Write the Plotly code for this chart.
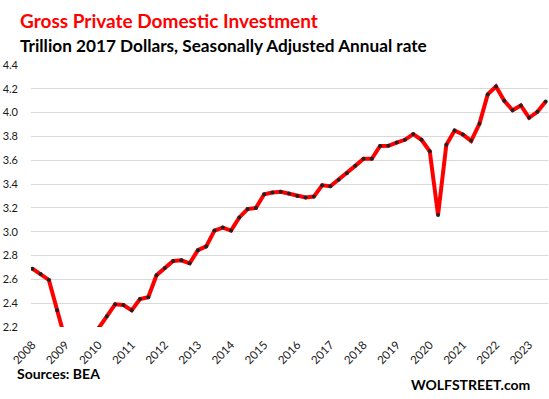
import plotly.graph_objects as go

years = list(range(2008, 2024))
quarters = [f"{y}Q{q}" for y in years for q in range(1, 5)][:63]
values = [
    2.69, 2.645, 2.595, 2.34,
    2.09, 2.02, 2.04, 2.12,
    2.19, 2.29, 2.39, 2.385,
    2.34, 2.435, 2.45, 2.635,
    2.695, 2.755, 2.76, 2.735,
    2.845, 2.877, 3.01, 3.035,
    3.01, 3.12, 3.19, 3.20,
    3.315, 3.33, 3.335, 3.32,
    3.30, 3.288, 3.295, 3.39,
    3.382, 3.437, 3.49, 3.553,
    3.612, 3.612, 3.72, 3.722,
    3.749, 3.772, 3.82, 3.772,
    3.675, 3.14, 3.73, 3.85,
    3.816, 3.763, 3.906, 4.153,
    4.22, 4.10, 4.02, 4.06,
    3.957, 4.007, 4.094,
]
tick_labels = [str(y) for y in years]
tick_positions = [f"{y}Q1" for y in years]
y_ticks = [2.2, 2.4, 2.6, 2.8, 3.0, 3.2, 3.4, 3.6, 3.8, 4.0, 4.2, 4.4]

W, H = 549, 399
L, R, T, B = 31, 548, 65.3, 326.7

def px(x):
    return (x - L) / (R - L)

def py(y):
    return (B - y) / (B - T)

fig = go.Figure()
fig.add_trace(go.Scatter(
    x=quarters, y=values, mode="lines+markers",
    line=dict(color="#ff0000", width=4),
    marker=dict(color="#222222", size=4),
    hoverinfo="skip",
))

font_family = "Lato, 'Liberation Sans', sans-serif"
fig.update_layout(
    width=W, height=H,
    margin=dict(l=L, r=W - R, t=T, b=H - B, pad=0),
    paper_bgcolor="white", plot_bgcolor="white",
    showlegend=False,
    font=dict(family=font_family, color="#1a1a1a", size=11),
    xaxis=dict(
        type="category", automargin=False,
        range=[-0.16, 62.28],
        tickmode="array", tickvals=tick_positions, ticktext=tick_labels,
        tickangle=-46, showgrid=False, showline=False, zeroline=False,
        ticks="", ticklabelstandoff=8,
        tickfont=dict(size=11.5, color="#1a1a1a"),
    ),
    yaxis=dict(
        range=[2.2, 4.4], automargin=False,
        tickmode="array", tickvals=y_ticks,
        ticktext=[f"{v:.1f}" for v in y_ticks],
        showgrid=True, gridcolor="#d9d9d9", gridwidth=1,
        showline=False, zeroline=False, ticks="",
        ticklabelstandoff=12,
        tickfont=dict(size=11, color="#1a1a1a"),
    ),
)

fig.add_annotation(
    text="<b>Gross Private Domestic Investment</b>",
    xref="paper", yref="paper", x=px(18), y=py(21), xanchor="left", yanchor="middle",
    showarrow=False, font=dict(size=19, color="#ff0000", family=font_family),
)
fig.add_annotation(
    text="<b>Trillion 2017 Dollars, Seasonally Adjusted Annual rate</b>",
    xref="paper", yref="paper", x=px(18), y=py(46), xanchor="left", yanchor="middle",
    showarrow=False, font=dict(size=17.2, color="#000000", family=font_family),
)
fig.add_annotation(
    text="<b>Sources: BEA</b>",
    xref="paper", yref="paper", x=px(15), y=py(373), xanchor="left", yanchor="middle",
    showarrow=False, font=dict(size=14, color="#000000", family=font_family),
)
fig.add_annotation(
    text="<b>WOLFSTREET.com</b>",
    xref="paper", yref="paper", x=px(532), y=py(384), xanchor="right", yanchor="middle",
    showarrow=False, font=dict(size=14, color="#000000", family=font_family),
)

fig.write_html(
    "out.html",
    config={"displayModeBar": False},
    post_script="document.body.style.margin='0';document.body.style.padding='0';",
)
